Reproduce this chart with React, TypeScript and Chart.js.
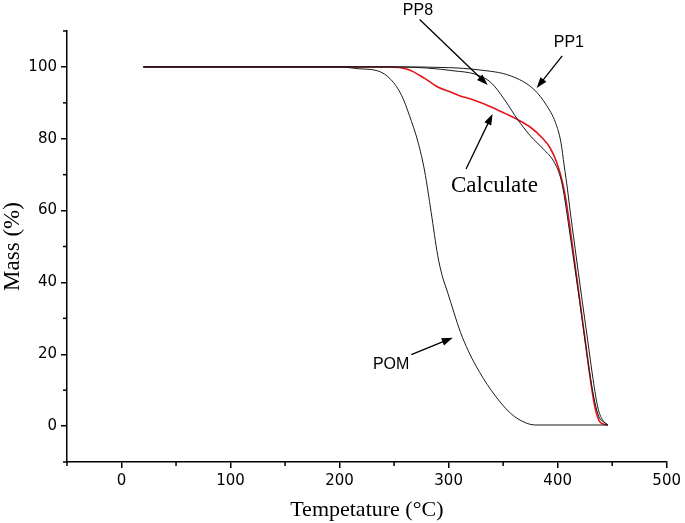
import React, { useEffect, useRef } from 'react';
import { Chart, registerables } from 'chart.js';

Chart.register(...registerables);

// ---- Data (temperature °C / mass %) ----
const pomT = [20, 200, 217, 235, 247, 257, 264, 272, 278, 284, 290, 294, 299, 305, 311, 318, 325, 339, 357, 372, 381, 446];
const pomM = [100, 100, 99.5, 98.9, 96.5, 92, 86.5, 79, 71, 59.5, 47.5, 42, 37.3, 31.5, 26, 21, 16.8, 10, 3.5, 0.75, 0.3, 0.3];

const pp1T = [20, 250, 300, 327, 357, 378, 390, 398, 403, 406, 409, 411, 416, 422, 427.5, 432.5, 437, 441, 446];
const pp1M = [100, 100, 99.8, 99.2, 97.5, 93.8, 89.2, 84.5, 79, 72.5, 66, 61, 49.5, 36, 24, 13, 5, 1.8, 0.3];

const pp8T = [20, 250, 280, 305, 324, 339, 351, 363, 375, 387, 397, 403, 406, 411, 417, 423, 429, 434, 438, 442, 446];
const pp8M = [100, 100, 99.7, 98.9, 98, 95.6, 91, 85.5, 80.8, 77.1, 73.4, 68.8, 64.2, 54, 41.5, 28.5, 15.5, 6.8, 2.5, 1.2, 0.3];

const calcT = [20, 244, 263, 278, 290, 300, 310, 323, 338, 352, 364, 375, 385, 393, 399, 403.5, 407, 411, 415, 421, 426.5, 431, 434, 437, 440, 446];
const calcM = [100, 100, 99.3, 96.8, 94.4, 93.2, 92, 90.8, 89, 87, 85.2, 83.2, 80.5, 77.5, 73.5, 69, 64, 56, 47, 33.5, 21, 11, 5.5, 2.2, 0.8, 0.3];

const xMajorTicks = [0, 100, 200, 300, 400, 500];
const xMinorTicks = [-50, 50, 150, 250, 350, 450];
const yMajorTicks = [0, 20, 40, 60, 80, 100];
const yMinorTicks = [-10, 10, 30, 50, 70, 90, 110];

// Annotations (data coordinates): label text, label position, arrow tail, arrow head
const annotationTexts = ['PP8', 'PP1', 'Calculate', 'POM'];
const annotationSerif = [false, false, true, false];
const annotationTextPos = [[271.9, 115.8], [410.3, 106.8], [342, 66.9], [247.3, 17.1]];
const annotationTail = [[273.4, 113.2], [404.2, 103.1], [316, 71.6], [265.8, 19.9]];
const annotationHead = [[335.8, 95.0], [380.7, 94.1], [340.3, 86.9], [303.8, 24.6]];

const toPoints = (t: number[], m: number[]) => t.map((v, i) => ({ x: v, y: m[i] }));

function drawArrow(ctx: CanvasRenderingContext2D, x1: number, y1: number, x2: number, y2: number) {
  const ang = Math.atan2(y2 - y1, x2 - x1);
  const hl = 11;
  const hw = 3.8;
  const c = Math.cos(ang);
  const s = Math.sin(ang);
  ctx.beginPath();
  ctx.moveTo(x1, y1);
  ctx.lineTo(x2 - hl * 0.7 * c, y2 - hl * 0.7 * s);
  ctx.stroke();
  ctx.beginPath();
  ctx.moveTo(x2, y2);
  ctx.lineTo(x2 - hl * c + hw * s, y2 - hl * s - hw * c);
  ctx.lineTo(x2 - hl * c - hw * s, y2 - hl * s + hw * c);
  ctx.closePath();
  ctx.fill();
}

const extrasPlugin = {
  id: 'extras',
  afterDraw(chart: any) {
    const { ctx, scales } = chart;
    const xs = scales.x;
    const ys = scales.y;
    const area = chart.chartArea;
    ctx.save();
    ctx.strokeStyle = '#000';
    ctx.fillStyle = '#000';
    // minor ticks
    ctx.lineWidth = 1.5;
    xMinorTicks.forEach((v) => {
      const px = xs.getPixelForValue(v);
      ctx.beginPath();
      ctx.moveTo(px, area.bottom);
      ctx.lineTo(px, area.bottom + 4);
      ctx.stroke();
    });
    yMinorTicks.forEach((v) => {
      const py = ys.getPixelForValue(v);
      ctx.beginPath();
      ctx.moveTo(area.left, py);
      ctx.lineTo(area.left - 4, py);
      ctx.stroke();
    });
    // annotations
    ctx.lineWidth = 1.3;
    annotationTexts.forEach((txt, i) => {
      const [tx, ty] = annotationTextPos[i];
      ctx.font = annotationSerif[i] ? '23px "Liberation Serif"' : '16px "Liberation Sans"';
      ctx.textAlign = 'center';
      ctx.textBaseline = 'middle';
      ctx.fillText(txt, xs.getPixelForValue(tx), ys.getPixelForValue(ty));
      const [ax, ay] = annotationTail[i];
      const [bx, by] = annotationHead[i];
      drawArrow(ctx, xs.getPixelForValue(ax), ys.getPixelForValue(ay), xs.getPixelForValue(bx), ys.getPixelForValue(by));
    });
    ctx.restore();
  },
};

export default function App() {
  const ref = useRef<HTMLCanvasElement>(null);
  useEffect(() => {
    const tickFont = { family: '"DejaVu Sans"', size: 15 };
    const titleFont = { family: '"Liberation Serif"', size: 22, lineHeight: 1.2 };
    const chart = new Chart(ref.current as HTMLCanvasElement, {
      type: 'line',
      data: {
        datasets: [
          { label: 'POM', data: toPoints(pomT, pomM), borderColor: '#1a1a1a', borderWidth: 1 },
          { label: 'PP1', data: toPoints(pp1T, pp1M), borderColor: '#1a1a1a', borderWidth: 1 },
          { label: 'PP8', data: toPoints(pp8T, pp8M), borderColor: '#1a1a1a', borderWidth: 1 },
          { label: 'Calculate', data: toPoints(calcT, calcM), borderColor: '#e8141b', borderWidth: 1.6 },
        ].map((d) => ({ ...d, pointRadius: 0, fill: false, cubicInterpolationMode: 'monotone' as const })),
      },
      options: {
        responsive: false,
        animation: false,
        events: [],
        layout: { padding: { top: 31, right: 15, bottom: 0, left: 0 } },
        plugins: { legend: { display: false }, tooltip: { enabled: false } },
        scales: {
          x: {
            type: 'linear',
            min: -50,
            max: 500,
            afterBuildTicks: (s: any) => {
              s.ticks = xMajorTicks.map((v) => ({ value: v }));
            },
            afterFit: (s: any) => {
              s.height = 61;
            },
            grid: { drawOnChartArea: false, drawTicks: true, tickLength: 6, color: '#000', lineWidth: 1.5 },
            border: { display: true, color: '#000', width: 1.5 },
            ticks: { font: tickFont, color: '#000', padding: 4, maxRotation: 0, autoSkip: false },
            title: { display: true, text: 'Tempetature (°C)', font: titleFont, color: '#000', padding: { top: 0, bottom: 0 } },
          },
          y: {
            type: 'linear',
            min: -10,
            max: 110,
            afterBuildTicks: (s: any) => {
              s.ticks = yMajorTicks.map((v) => ({ value: v }));
            },
            afterFit: (s: any) => {
              s.width = 67;
            },
            grid: { drawOnChartArea: false, drawTicks: true, tickLength: 6, color: '#000', lineWidth: 1.5 },
            border: { display: true, color: '#000', width: 1.5 },
            ticks: { font: tickFont, color: '#000', padding: 4, autoSkip: false },
            title: { display: true, text: 'Mass (%)', font: { ...titleFont, size: 23, lineHeight: 1 }, color: '#000', padding: { top: 1, bottom: 0 } },
          },
        },
      },
      plugins: [extrasPlugin],
    } as any);
    return () => chart.destroy();
  }, []);
  return (
    <div style={{ position: 'fixed', left: 0, top: 0, width: 685, height: 523, background: '#fff' }}>
      <canvas ref={ref} width={685} height={523} style={{ width: 685, height: 523, display: 'block' }} />
    </div>
  );
}
